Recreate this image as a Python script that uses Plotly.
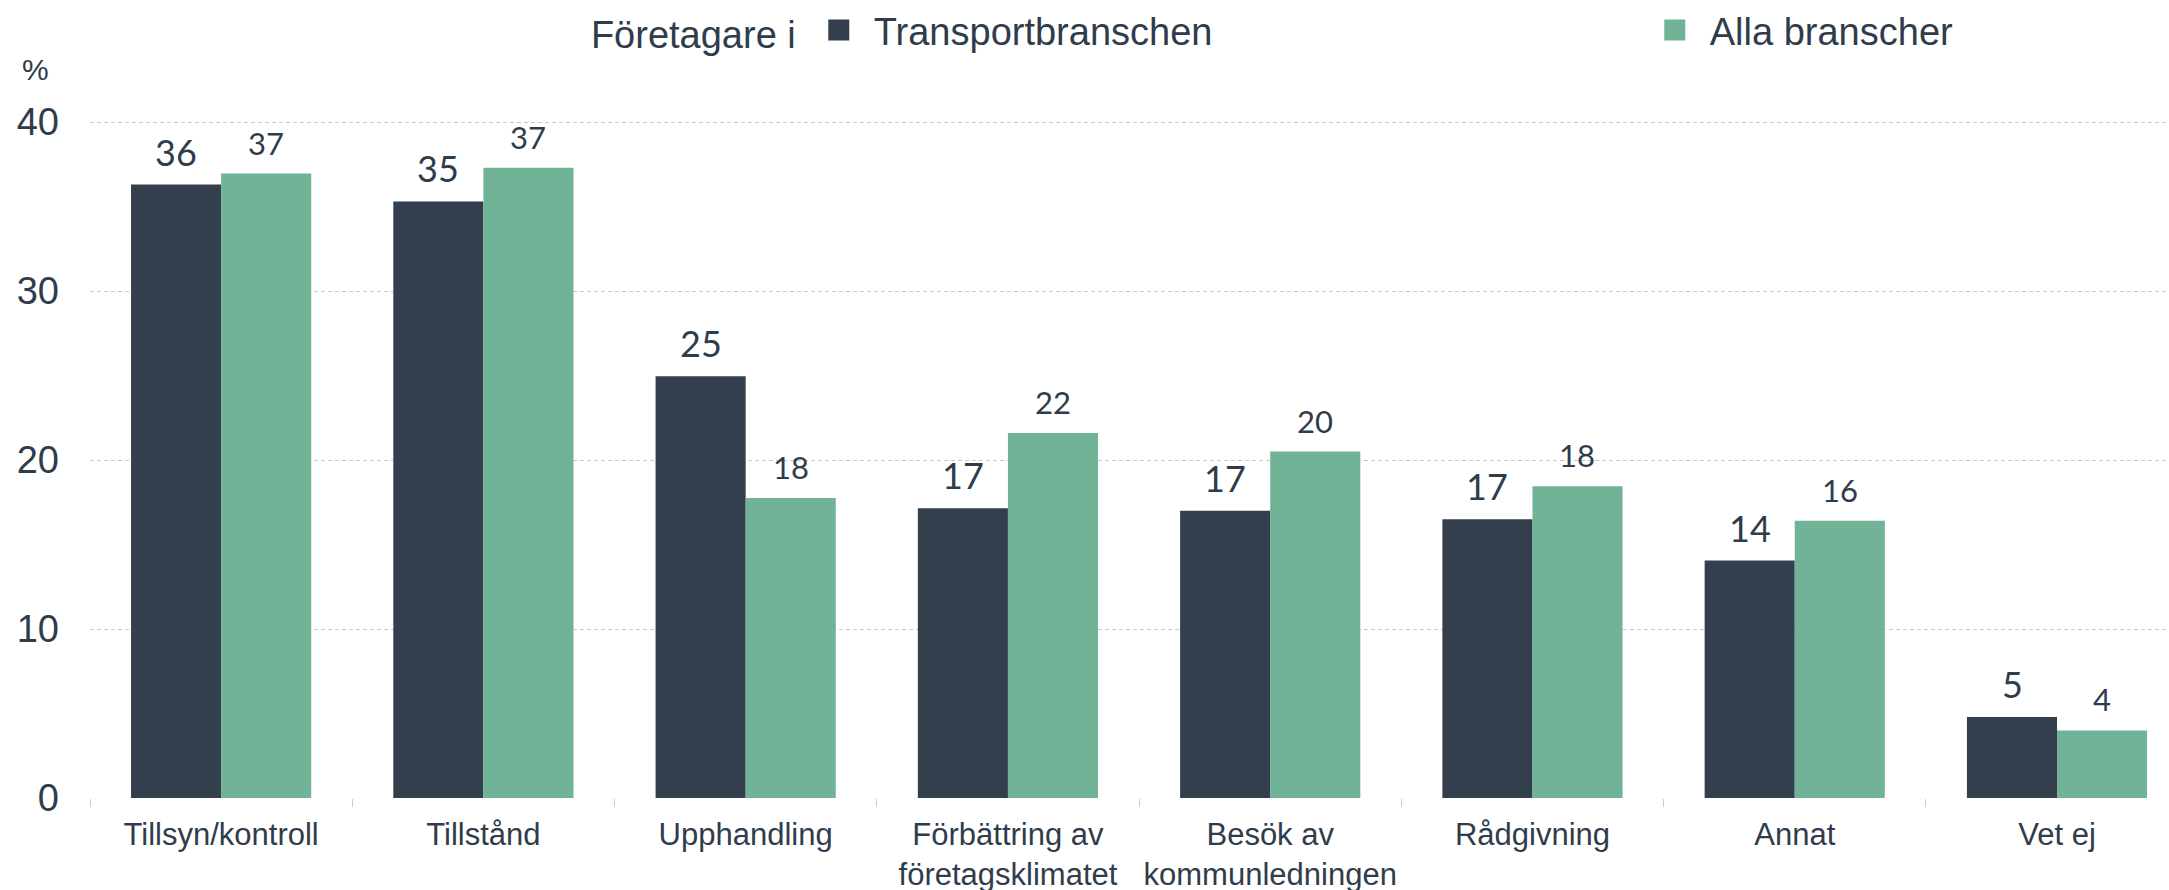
import plotly.graph_objects as go

categories = ["Tillsyn/kontroll", "Tillstånd", "Upphandling",
              "Förbättring av<br>företagsklimatet", "Besök av<br>kommunledningen",
              "Rådgivning", "Annat", "Vet ej"]
transport = [36.3, 35.3, 24.95, 17.15, 17.0, 16.5, 14.05, 4.8]
alla = [36.95, 37.3, 17.75, 21.6, 20.5, 18.45, 16.4, 4.0]
transport_labels = ["36", "35", "25", "17", "17", "17", "14", "5"]
alla_labels = ["37", "37", "18", "22", "20", "18", "16", "4"]
y_ticks = [0, 10, 20, 30, 40]

DARK = "#333f4d"
GREEN = "#70b397"
TEXT = "#2f3c4b"
GRID = "#c9c9c9"

fig = go.Figure()
fig.add_trace(go.Bar(x=categories, y=transport, name="Transportbranschen",
                     marker=dict(color=DARK, line=dict(width=0)), showlegend=False))
fig.add_trace(go.Bar(x=categories, y=alla, name="Alla branscher",
                     marker=dict(color=GREEN, line=dict(width=0)), showlegend=False))
# legend entries
fig.add_trace(go.Scatter(x=[None], y=[None], mode="markers", name="Transportbranschen",
                         marker=dict(symbol="square", size=22, color=DARK,
                                     line=dict(width=5, color=DARK))))
fig.add_trace(go.Scatter(x=[None], y=[None], mode="markers", name="Alla branscher",
                         marker=dict(symbol="square", size=22, color=GREEN,
                                     line=dict(width=5, color=GREEN))))

annotations = []
for c, v, t in zip(categories, transport, transport_labels):
    annotations.append(dict(x=c, y=v, xref="x", yref="y", text=t, showarrow=False,
                            xshift=-45, yshift=9, yanchor="bottom",
                            font=dict(family="Lato", size=36, color=TEXT)))
for c, v, t in zip(categories, alla, alla_labels):
    annotations.append(dict(x=c, y=v, xref="x", yref="y", text=t, showarrow=False,
                            xshift=45, yshift=10, yanchor="bottom",
                            font=dict(family="Lato", size=31, color=TEXT)))
annotations.append(dict(x=-0.026, y=1.015, xref="paper", yref="paper", text="%",
                        showarrow=False, xanchor="center", yanchor="middle",
                        font=dict(family="Liberation Sans", size=30, color=TEXT)))

fig.update_layout(
    width=2169, height=890,
    margin=dict(l=90, r=0, t=80, b=92, autoexpand=False),
    paper_bgcolor="white", plot_bgcolor="white",
    barmode="group", bargap=0.313, bargroupgap=0,
    font=dict(family="Liberation Sans", color=TEXT),
    annotations=annotations,
    legend=dict(orientation="h", xref="container", yref="container",
                x=0.2715, xanchor="left", y=0.966, yanchor="middle",
                title=dict(text="Företagare i", side="left",
                           font=dict(family="Liberation Sans", size=38, color=TEXT)),
                font=dict(family="Liberation Sans", size=38, color=TEXT),
                itemwidth=60,
                entrywidth=761, entrywidthmode="pixels",
                bgcolor="rgba(0,0,0,0)"),
    xaxis=dict(range=[-0.5, 7.427], tickson="boundaries", ticks="outside",
               ticklen=8, tickcolor="#cccccc", showgrid=False, zeroline=False,
               showline=False, ticklabelstandoff=15, tickangle=0, automargin=False,
               tickfont=dict(family="Liberation Sans", size=31, color=TEXT)),
    yaxis=dict(range=[0, 42.485], tickvals=y_ticks, showgrid=True,
               gridcolor=GRID, griddash="4px,3px", gridwidth=1, automargin=False,
               zeroline=False, showline=False, ticklabelstandoff=30,
               tickfont=dict(family="Liberation Sans", size=38, color=TEXT)),
)

fig.write_html("out.html", config={"displayModeBar": False},
               post_script="document.body.style.margin='0px';")
